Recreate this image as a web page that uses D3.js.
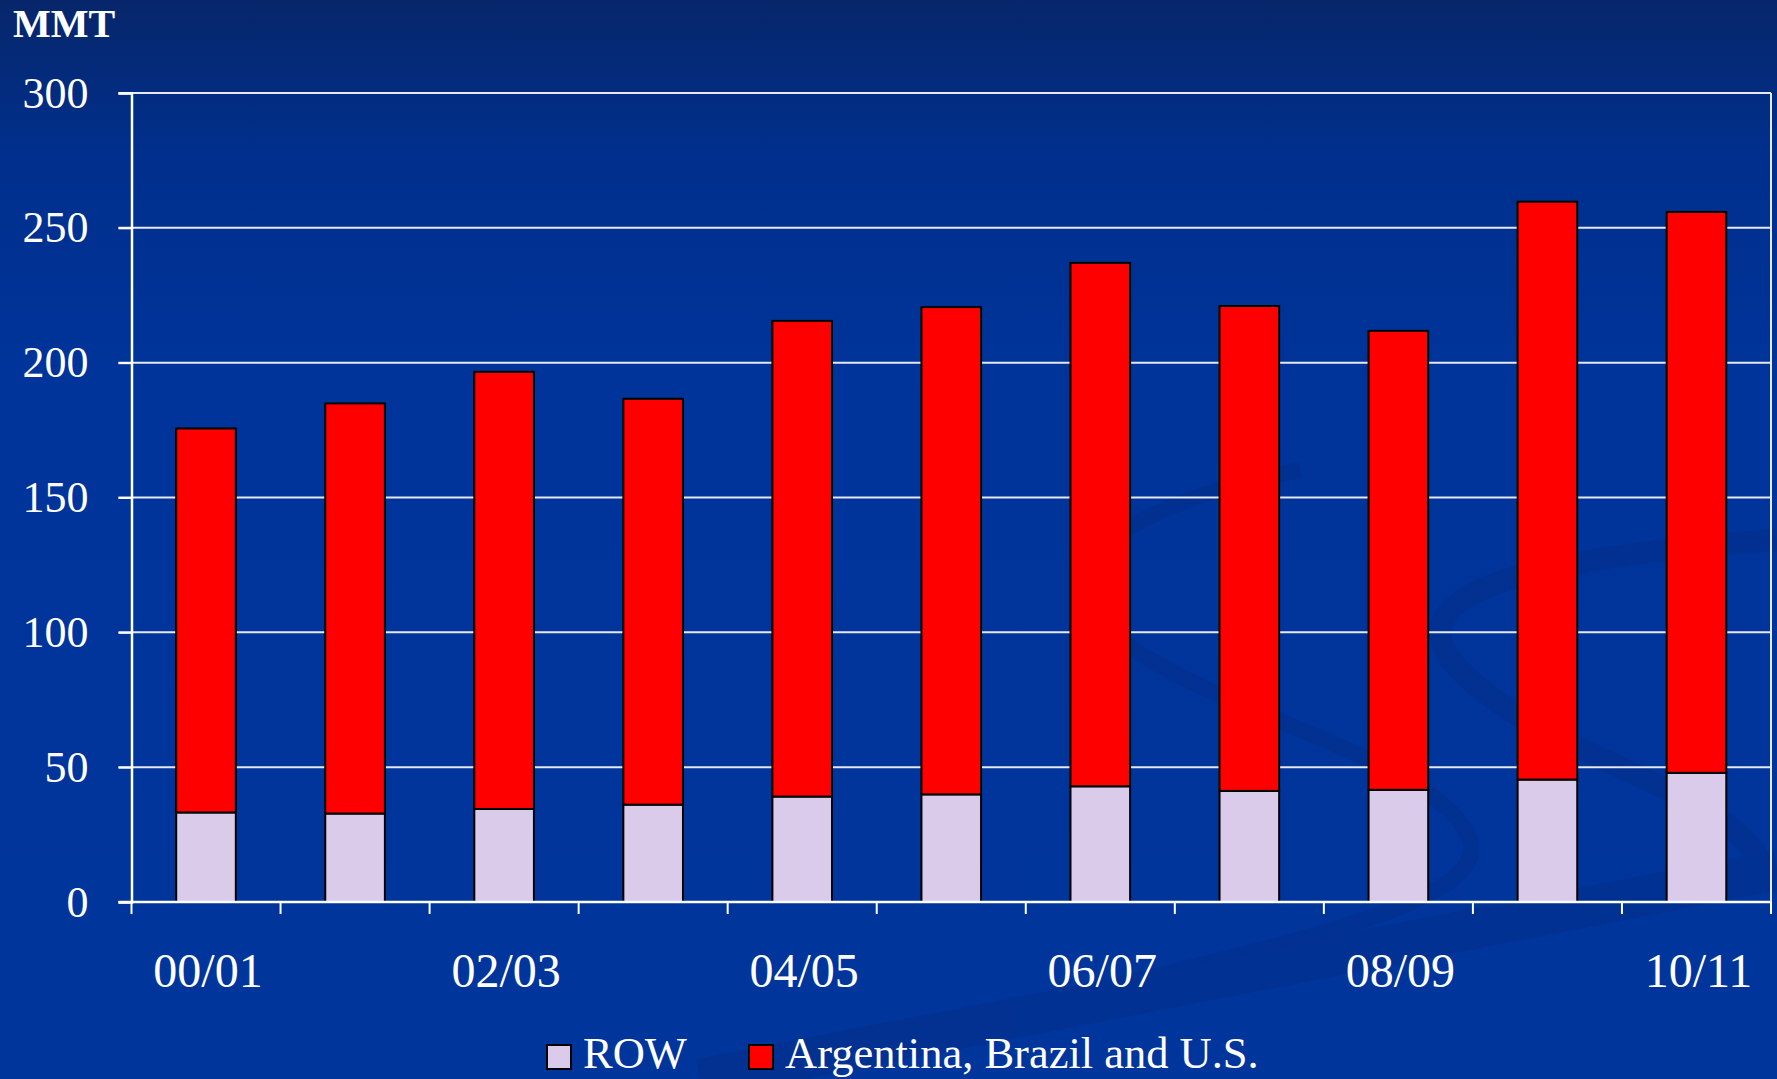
<!DOCTYPE html>
<html>
<head>
<meta charset="utf-8">
<script src="https://cdn.jsdelivr.net/npm/d3@7"></script>
<style>
  html, body { margin: 0; padding: 0; background: #00359b; overflow: hidden; }
  #vis { width: 1777px; height: 1079px; }
  text { font-family: "Liberation Serif", "Times New Roman", serif; fill: #ffffff; }
</style>
</head>
<body>
<div id="vis"></div>
<script>
// marketing years
var years = ["00/01", "01/02", "02/03", "03/04", "04/05", "05/06", "06/07", "07/08", "08/09", "09/10", "10/11"];
// rest of world, MMT
var rowValues = [33.2, 32.8, 34.5, 36.1, 39.1, 39.9, 42.9, 41.2, 41.6, 45.4, 47.9];
// Argentina, Brazil and U.S., MMT
var abuValues = [142.4, 152.1, 162.1, 150.5, 176.4, 180.7, 194.1, 179.8, 170.2, 214.3, 208.0];
var yTicks = [0, 50, 100, 150, 200, 250, 300];
var xLabels = ["00/01", "02/03", "04/05", "06/07", "08/09", "10/11"];
var seriesNames = ["ROW", "Argentina, Brazil and U.S."];
var seriesColors = ["#d9cbe9", "#ff0000"];

var width = 1777;
var height = 1079;
var margin = {left: 131.5, right: 6, top: 93, bottom: 177};

var svg = d3.select("#vis").append("svg")
    .attr("width", width)
    .attr("height", height);

// background gradient
var defs = svg.append("defs");
var grad = defs.append("linearGradient")
    .attr("id", "bg").attr("x1", 0).attr("y1", 0).attr("x2", 0).attr("y2", 1);
grad.append("stop").attr("offset", "0%").attr("stop-color", "#07266a");
grad.append("stop").attr("offset", "14%").attr("stop-color", "#002f8c");
grad.append("stop").attr("offset", "35%").attr("stop-color", "#00349a");
grad.append("stop").attr("offset", "100%").attr("stop-color", "#00359c");

svg.append("rect")
    .attr("width", width).attr("height", height)
    .attr("fill", "url(#bg)");

// faint decorative swooshes of the slide template
var deco = svg.append("g").attr("fill", "none").attr("stroke", "#032f8c").attr("opacity", 0.6);
deco.append("path")
    .attr("stroke-width", 22)
    .attr("d", "M1777,540 C1500,560 1380,600 1470,680 C1560,760 1720,790 1760,860");
deco.append("path")
    .attr("stroke-width", 16)
    .attr("d", "M1300,470 C1150,500 1020,560 1120,640 C1230,720 1440,760 1470,840 C1490,900 1300,940 1100,990");
deco.append("path")
    .attr("stroke-width", 40)
    .attr("d", "M700,1079 C1100,1000 1450,930 1777,870");

var x = d3.scaleBand()
    .domain(years)
    .range([margin.left, width - margin.right])
    .paddingInner(0.6)
    .paddingOuter(0.3);

var y = d3.scaleLinear()
    .domain([0, 300])
    .range([height - margin.bottom, margin.top]);

// gridlines
svg.append("g").selectAll("line")
  .data(yTicks.filter(function(d) { return d > 0; }))
  .enter().append("line")
    .attr("x1", margin.left - 13)
    .attr("x2", width - margin.right)
    .attr("y1", function(d) { return y(d); })
    .attr("y2", function(d) { return y(d); })
    .attr("stroke", "#e6e8f2")
    .attr("stroke-width", 2);

// stacked bars
var stackData = years.map(function(yr, i) {
  return {year: yr, row: rowValues[i], abu: abuValues[i]};
});
var series = d3.stack().keys(["row", "abu"])(stackData);

svg.append("g").selectAll("g")
  .data(series)
  .enter().append("g")
    .attr("fill", function(d, i) { return seriesColors[i]; })
  .selectAll("rect")
  .data(function(d) { return d; })
  .enter().append("rect")
    .attr("x", function(d) { return x(d.data.year); })
    .attr("width", x.bandwidth())
    .attr("y", function(d) { return y(d[1]); })
    .attr("height", function(d) { return y(d[0]) - y(d[1]); })
    .attr("stroke", "#000")
    .attr("stroke-width", 2);

// y axis
var yAxis = svg.append("g")
    .attr("transform", "translate(" + margin.left + ",0)")
    .call(d3.axisLeft(y).tickValues(yTicks).tickSize(13).tickPadding(30));
yAxis.select(".domain").attr("stroke", "#ffffff").attr("stroke-width", 2.5);
yAxis.selectAll(".tick line").attr("stroke", "#ffffff").attr("stroke-width", 2);
yAxis.selectAll(".tick text")
    .attr("fill", "#ffffff")
    .style("font-family", "'Liberation Serif', serif")
    .style("font-size", "44px");

// x axis: ticks at band boundaries
var step = x.step();
var boundaries = d3.range(years.length + 1).map(function(i) { return margin.left + i * step; });
var xBase = y(0);
svg.append("line")
    .attr("x1", margin.left - 13).attr("x2", width - margin.right)
    .attr("y1", xBase).attr("y2", xBase)
    .attr("stroke", "#ffffff").attr("stroke-width", 2.5);
svg.append("g").selectAll("line")
  .data(boundaries)
  .enter().append("line")
    .attr("x1", function(d) { return d; })
    .attr("x2", function(d) { return d; })
    .attr("y1", xBase)
    .attr("y2", xBase + 12)
    .attr("stroke", "#ffffff")
    .attr("stroke-width", 2);

// right border
svg.append("line")
    .attr("x1", width - margin.right).attr("x2", width - margin.right)
    .attr("y1", y(300)).attr("y2", xBase)
    .attr("stroke", "#e6e8f2").attr("stroke-width", 2);

svg.append("g").selectAll("text")
  .data(xLabels)
  .enter().append("text")
    .attr("x", function(d) { return x(d) + x.bandwidth() / 2 + 2; })
    .attr("y", xBase + 85)
    .attr("text-anchor", "middle")
    .style("font-size", "48px")
    .text(function(d) { return d; });

// unit label
svg.append("text")
    .attr("x", 13)
    .attr("y", 37)
    .style("font-size", "40px")
    .style("font-weight", "bold")
    .text("MMT");

// legend
var legendItems = [{x: 547, name: seriesNames[0], color: seriesColors[0]},
                   {x: 749, name: seriesNames[1], color: seriesColors[1]}];
var legend = svg.append("g").selectAll("g")
  .data(legendItems)
  .enter().append("g")
    .attr("transform", function(d) { return "translate(" + d.x + ",1045)"; });
legend.append("rect")
    .attr("width", 24).attr("height", 24)
    .attr("fill", function(d) { return d.color; })
    .attr("stroke", "#000").attr("stroke-width", 2);
legend.append("text")
    .attr("x", 36)
    .attr("y", 23)
    .style("font-size", "44.5px")
    .text(function(d) { return d.name; });
</script>
</body>
</html>
